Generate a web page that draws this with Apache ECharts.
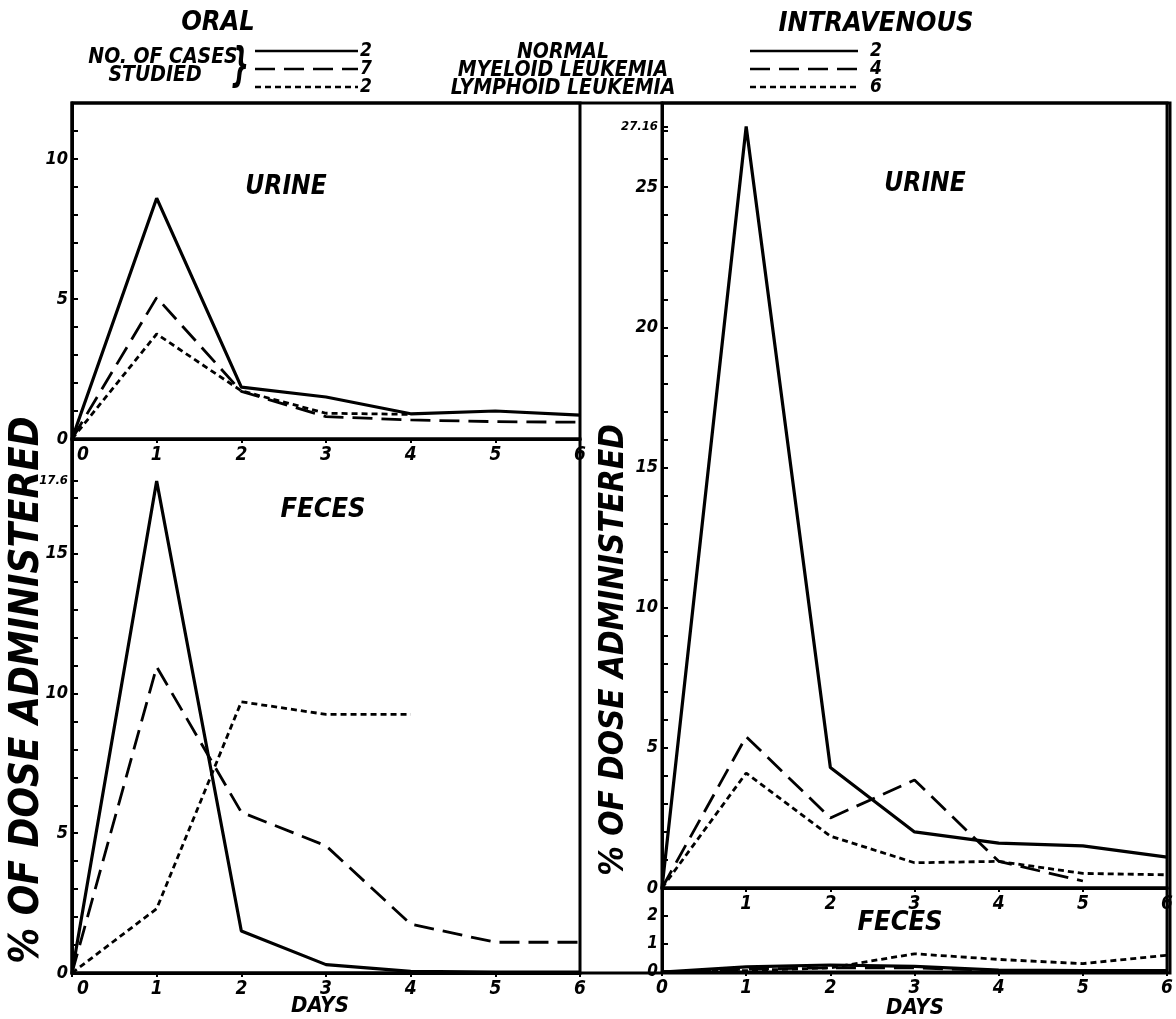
<!DOCTYPE html>
<html>
<head>
<meta charset="utf-8">
<script src="https://cdn.jsdelivr.net/npm/echarts@6/dist/echarts.min.js"></script>
<style>
  html, body { margin: 0; padding: 0; background: #fff; }
  #chart { width: 1176px; height: 1019px; }
</style>
</head>
<body>
<div id="chart"></div>
<script>
// days after administration
const days = [0, 1, 2, 3, 4, 5, 6];

// % of dose administered, oral route
const oralUrineNormal   = [0, 8.6, 1.85, 1.5, 0.9, 1.0, 0.85];
const oralUrineMyeloid  = [0, 5.05, 1.7, 0.8, 0.68, 0.62, 0.6];
const oralUrineLymphoid = [0, 3.75, 1.72, 0.92, 0.88];
const oralFecesNormal   = [0, 17.6, 1.5, 0.3, 0.06, 0.03, 0.03];
const oralFecesMyeloid  = [0, 10.95, 5.75, 4.55, 1.75, 1.1, 1.1];
const oralFecesLymphoid = [0, 2.3, 9.7, 9.25, 9.25];

// % of dose administered, intravenous route
const ivUrineNormal   = [0, 27.16, 4.3, 2.0, 1.6, 1.5, 1.1];
const ivUrineMyeloid  = [0, 5.4, 2.5, 3.85, 0.95, 0.25];
const ivUrineLymphoid = [0, 4.1, 1.85, 0.9, 0.95, 0.52, 0.47];
const ivFecesNormal   = [0, 0.18, 0.25, 0.2, 0.07, 0.05, 0.05];
const ivFecesMyeloid  = [0, 0.1, 0.15, 0.15, 0.05, 0.03, 0.05];
const ivFecesLymphoid = [0, 0.05, 0.15, 0.65, 0.45, 0.3, 0.6];

// legend table
const groupNames = ['NORMAL', 'MYELOID LEUKEMIA', 'LYMPHOID LEUKEMIA'];
const oralCases = [2, 7, 2];
const ivCases = [2, 4, 6];

// axis ranges and tick labels (urine L, feces L, urine R, feces R)
const yMax = [12, 19.1, 28, 3];
const yLabels = [
    [0, 5, 10],
    [0, 5, 10, 15, 17.6],
    [0, 5, 10, 15, 20, 25, 27.16],
    [0, 1, 2]
];
const yTicks = [
    [0, 1, 2, 3, 4, 5, 6, 7, 8, 9, 10, 11],
    [0, 1, 2, 3, 4, 5, 6, 7, 8, 9, 10, 11, 12, 13, 14, 15, 16, 17, 17.6],
    [0, 1, 2, 3, 4, 5, 6, 7, 8, 9, 10, 11, 12, 13, 14, 15, 16, 17, 18, 19, 20, 21, 22, 23, 24, 25, 26, 27, 27.16],
    [0, 1, 2]
];
const panelNames = ['URINE', 'FECES', 'URINE', 'FECES'];
const yTitle = '% OF DOSE ADMINISTERED';

const FONT = "'DejaVu Sans Condensed', 'DejaVu Sans', sans-serif";
const INK = '#000';

const lineKinds = [
    { type: 'solid', width: 3.2 },
    { type: [20, 9], width: 2.8 },
    { type: [6, 4], width: 2.8 }
];

const panels = [
    [oralUrineNormal, oralUrineMyeloid, oralUrineLymphoid],
    [oralFecesNormal, oralFecesMyeloid, oralFecesLymphoid],
    [ivUrineNormal, ivUrineMyeloid, ivUrineLymphoid],
    [ivFecesNormal, ivFecesMyeloid, ivFecesLymphoid]
];

function pairs(values) {
    return values.map((v, i) => [days[i], v]);
}

function textStyle(size) {
    return {
        fontFamily: FONT,
        fontWeight: 'bold',
        fontStyle: 'italic',
        fontSize: size,
        color: INK
    };
}

function gText(text, x, y, size, extra) {
    return Object.assign({
        type: 'text',
        x: x,
        y: y,
        style: {
            text: text,
            fill: INK,
            font: 'italic bold ' + size + 'px ' + FONT,
            align: 'center',
            verticalAlign: 'middle'
        }
    }, extra || {});
}

const chart = echarts.init(document.getElementById('chart'), null, { renderer: 'canvas' });

const grids = [
    { left: 72, top: 103, width: 508, height: 336 },
    { left: 72, top: 439, width: 508, height: 534 },
    { left: 662, top: 103, width: 508, height: 785 },
    { left: 662, top: 888, width: 508, height: 84 },
    { left: 72, top: 103, width: 1098, height: 870 }
].map(g => Object.assign(g, {
    show: true,
    borderColor: INK,
    borderWidth: 3,
    backgroundColor: 'transparent'
}));

const xAxes = [0, 1, 2, 3].map(i => ({
    type: 'value',
    gridIndex: i,
    min: 0,
    max: 6,
    interval: 1,
    axisLine: { lineStyle: { color: INK, width: 3 } },
    axisTick: { inside: false, length: 4, lineStyle: { color: INK, width: 2 } },
    axisLabel: Object.assign(textStyle(19), {
        margin: 7,
        formatter: v => {
            if (v !== 0) return String(v);
            if (i === 2) return '';
            return i < 2 ? '{z|0}' : '0';
        },
        rich: { z: Object.assign(textStyle(19), { padding: [0, 0, 0, 22] }) }
    }),
    splitLine: { show: false }
}));
xAxes.push({ type: 'value', gridIndex: 4, show: false, min: 0, max: 1 });

const yAxes = [0, 1, 2, 3].map(i => ({
    type: 'value',
    gridIndex: i,
    min: 0,
    max: yMax[i],
    axisLine: { onZero: false, lineStyle: { color: INK, width: 3 } },
    axisTick: {
        inside: true,
        length: 6,
        customValues: yTicks[i],
        lineStyle: { color: INK, width: 2 }
    },
    axisLabel: Object.assign(textStyle(i === 3 ? 17 : 18), {
        margin: 4,
        customValues: yLabels[i],
        formatter: v => Number.isInteger(v) ? String(v) : '{s|' + v + '}',
        rich: { s: textStyle(13) }
    }),
    splitLine: { show: false }
}));
yAxes.push({ type: 'value', gridIndex: 4, show: false, min: 0, max: 1 });

const series = [];
panels.forEach((groups, p) => {
    groups.forEach((values, k) => {
        series.push({
            name: groupNames[k] + ' ' + p,
            type: 'line',
            xAxisIndex: p,
            yAxisIndex: p,
            data: pairs(values),
            symbol: 'none',
            silent: true,
            lineStyle: { color: INK, width: lineKinds[k].width, type: lineKinds[k].type }
        });
    });
});

// headings, panel names, axis titles and the legend table
const graphics = [
    gText('ORAL', 218, 23, 27),
    gText('INTRAVENOUS', 876, 24, 27),
    gText(panelNames[0], 286, 187, 26),
    gText(panelNames[1], 323, 510, 27),
    gText(panelNames[2], 925, 184, 26),
    gText(panelNames[3], 900, 923, 27),
    gText('DAYS', 320, 1006, 22),
    gText('DAYS', 915, 1008, 22),
    gText(yTitle, 28, 690, 40, { rotation: Math.PI / 2 }),
    gText(yTitle, 614, 650, 33, { rotation: Math.PI / 2 }),
    gText('NO. OF CASES', 163, 58, 21),
    gText('STUDIED', 155, 76, 21),
    gText('}', 240, 68, 46, { scaleX: 0.6 })
];
const rowY = [51, 69, 87];
groupNames.forEach((name, k) => {
    const dash = Array.isArray(lineKinds[k].type) ? lineKinds[k].type : null;
    graphics.push(gText(name, 563, rowY[k] + 2, 21));
    graphics.push({
        type: 'line',
        shape: { x1: 255, y1: rowY[k], x2: 358, y2: rowY[k] },
        style: { stroke: INK, lineWidth: 2.6, lineDash: dash }
    });
    graphics.push({
        type: 'line',
        shape: { x1: 750, y1: rowY[k], x2: 858, y2: rowY[k] },
        style: { stroke: INK, lineWidth: 2.6, lineDash: dash }
    });
    graphics.push(gText(String(oralCases[k]), 366, rowY[k], 19));
    graphics.push(gText(String(ivCases[k]), 876, rowY[k], 19));
});

chart.setOption({
    backgroundColor: '#fff',
    animation: false,
    grid: grids,
    xAxis: xAxes,
    yAxis: yAxes,
    series: series,
    graphic: graphics
});
</script>
</body>
</html>
